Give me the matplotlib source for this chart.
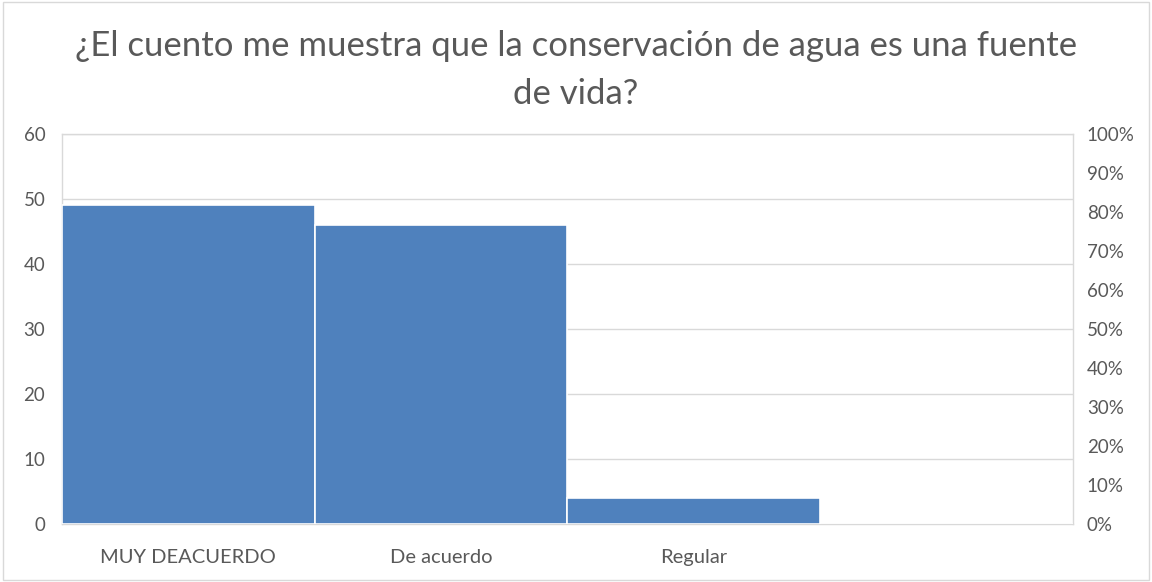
import matplotlib
matplotlib.use("Agg")
import matplotlib.pyplot as plt
from matplotlib.patches import Rectangle

categories = ["MUY DEACUERDO", "De acuerdo", "Regular", ""]
values = [49, 46, 4, 0]
left_ticks = [0, 10, 20, 30, 40, 50, 60]
right_ticks = [0, 10, 20, 30, 40, 50, 60, 70, 80, 90, 100]
title = "¿El cuento me muestra que la conservación de agua es una fuente\nde vida?"

plt.rcParams['font.family'] = ['Lato', 'DejaVu Sans']
txt = '#595959'
grid = '#D9D9D9'

fig = plt.figure(figsize=(11.52, 5.82), dpi=100)
fig.patches.append(Rectangle((0.003, 0.003), 0.994, 0.994, transform=fig.transFigure,
                             fill=False, edgecolor='#D9D9D9', linewidth=1))
ax = fig.add_axes([0.0538, 0.0997, 0.8776, 0.6701])
x = list(range(len(categories)))
ax.bar(x, values, width=1.0, color='#4F81BD', edgecolor='white', linewidth=1.2, zorder=3)
ax.set_xlim(-0.5, len(categories) - 0.5)
ax.set_ylim(0, 60)
ax.set_yticks(left_ticks)
ax.set_xticks(x)
ax.set_xticklabels(categories)
ax.yaxis.grid(True, color=grid, linewidth=1, zorder=0)
for s in ax.spines.values():
    s.set_color(grid)
    s.set_linewidth(1)
ax.tick_params(axis='both', length=0, labelsize=13.5, colors=txt, pad=12)
ax.tick_params(axis='x', pad=18)
ax.tick_params(axis='x', labelsize=14.5)

ax2 = ax.twinx()
ax2.set_ylim(0, 100)
ax2.set_yticks(right_ticks)
ax2.set_yticklabels([f"{t}%" for t in right_ticks])
ax2.tick_params(axis='y', length=0, labelsize=13.5, colors=txt, pad=10)
for s in ax2.spines.values():
    s.set_visible(False)

fig.text(0.5, 0.948, title, ha='center', va='top', fontsize=25, color=txt, linespacing=1.6)

fig.savefig("out.png", dpi=100)
